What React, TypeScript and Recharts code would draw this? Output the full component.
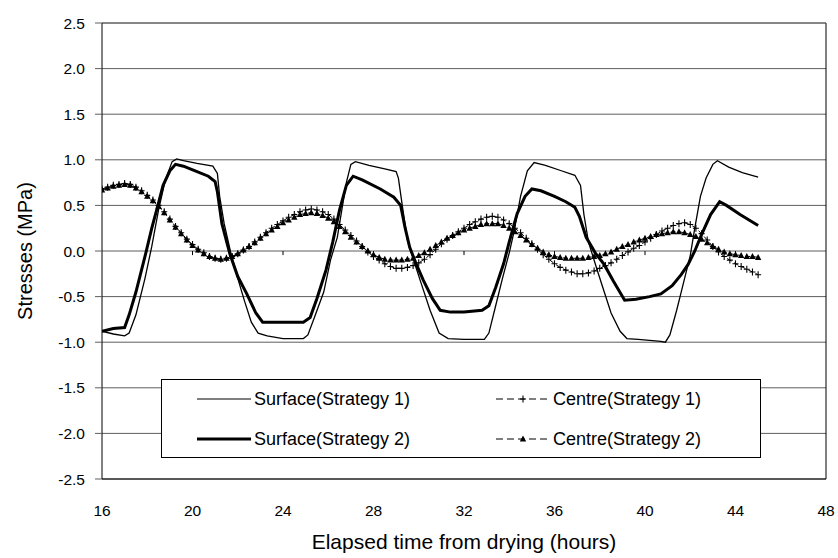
import { LineChart, Line, XAxis, YAxis, CartesianGrid, Legend, ReferenceLine } from 'recharts'

const X_TICKS = [16, 20, 24, 28, 32, 36, 40, 44, 48]
const Y_TICKS = [-2.5, -2, -1.5, -1, -0.5, 0, 0.5, 1, 1.5, 2, 2.5]

const SERIES_NAMES = [
  'Surface(Strategy 1)',
  'Centre(Strategy 1)',
  'Surface(Strategy 2)',
  'Centre(Strategy 2)',
]

// surface, strategy 1 (thin line)
const SURF1_T = [
  16, 16.5, 17, 17.2, 17.5, 17.9, 18.2, 18.5, 18.8, 19.1, 19.3, 19.6, 20.2, 20.9, 21.1, 21.2, 21.4, 21.7,
  22, 22.3, 22.6, 22.9, 23.3, 24, 24.9, 25.1, 25.4, 25.8, 26.1, 26.4, 26.6, 26.8, 27, 27.2, 27.8, 28.5,
  29, 29.1, 29.3, 29.5, 29.8, 30.1, 30.5, 30.9, 31.3, 32, 32.9, 33.1, 33.4, 33.7, 34, 34.2, 34.5, 34.8,
  35.1, 35.6, 36.3, 36.9, 37.15, 37.3, 37.5, 37.9, 38.2, 38.5, 38.9, 39.2, 39.7, 40.2, 40.7, 40.9, 41.1,
  41.4, 41.6, 42, 42.2, 42.45, 42.7, 43, 43.2, 43.7, 44.3, 45,
]
const SURF1_V = [
  -0.88, -0.91, -0.93, -0.9, -0.7, -0.3, 0.05, 0.45, 0.78, 0.98, 1.01, 0.99, 0.96, 0.93, 0.85, 0.6, 0.3, -0.03,
  -0.3, -0.55, -0.78, -0.9, -0.93, -0.96, -0.96, -0.92, -0.72, -0.45, -0.1, 0.15, 0.45, 0.75, 0.95, 0.98, 0.94, 0.9,
  0.87, 0.8, 0.45, 0.12, -0.12, -0.35, -0.65, -0.9, -0.96, -0.97, -0.97, -0.9, -0.6, -0.3, -0.02, 0.2, 0.6, 0.88,
  0.97, 0.94, 0.88, 0.83, 0.72, 0.4, 0.1, -0.22, -0.45, -0.68, -0.88, -0.96, -0.97, -0.98, -0.99, -1.0, -0.92,
  -0.65, -0.45, -0.05, 0.25, 0.6, 0.8, 0.95, 0.99, 0.92, 0.86, 0.81,
]

// surface, strategy 2 (thick line)
const SURF2_T = [
  16, 16.5, 17, 17.2, 17.5, 17.9, 18.2, 18.45, 18.7, 19, 19.25, 19.6, 20.2, 20.7, 21, 21.1, 21.3, 21.65,
  22, 22.4, 22.8, 23.1, 24, 24.9, 25.2, 25.5, 25.9, 26.2, 26.5, 26.8, 27.1, 27.5, 28.3, 28.9, 29.2, 29.4,
  29.6, 29.9, 30.2, 30.6, 30.95, 31.4, 32, 32.8, 33.1, 33.4, 33.75, 34, 34.35, 34.7, 35, 35.4, 36, 36.5,
  36.9, 37.1, 37.4, 37.8, 38.2, 38.6, 39.1, 39.6, 40.2, 40.7, 41.2, 41.6, 41.9, 42.2, 42.5, 42.9, 43.3,
  43.6, 44.2, 45,
]
const SURF2_V = [
  -0.88, -0.85, -0.84, -0.7, -0.45, -0.06, 0.25, 0.48, 0.72, 0.88, 0.95, 0.93, 0.87, 0.82, 0.76, 0.65, 0.3, -0.03,
  -0.28, -0.47, -0.68, -0.78, -0.78, -0.78, -0.73, -0.52, -0.21, 0.1, 0.45, 0.72, 0.82, 0.78, 0.68, 0.59, 0.5, 0.25,
  0.04, -0.15, -0.32, -0.52, -0.65, -0.67, -0.67, -0.65, -0.6, -0.4, -0.14, 0.1, 0.41, 0.6, 0.68, 0.66, 0.6, 0.54,
  0.48, 0.38, 0.15, -0.02, -0.15, -0.33, -0.54, -0.53, -0.5, -0.47, -0.38, -0.26, -0.15, 0.0, 0.18, 0.4, 0.54,
  0.5, 0.4, 0.28,
]

// centre points, sampled every quarter hour
const CENTRE_T = [
  16, 16.25, 16.5, 16.75, 17, 17.25, 17.5, 17.75, 18, 18.25, 18.5, 18.75, 19, 19.25, 19.5, 19.75,
  20, 20.25, 20.5, 20.75, 21, 21.25, 21.5, 21.75, 22, 22.25, 22.5, 22.75, 23, 23.25, 23.5, 23.75,
  24, 24.25, 24.5, 24.75, 25, 25.25, 25.5, 25.75, 26, 26.25, 26.5, 26.75, 27, 27.25, 27.5, 27.75,
  28, 28.25, 28.5, 28.75, 29, 29.25, 29.5, 29.75, 30, 30.25, 30.5, 30.75, 31, 31.25, 31.5, 31.75,
  32, 32.25, 32.5, 32.75, 33, 33.25, 33.5, 33.75, 34, 34.25, 34.5, 34.75, 35, 35.25, 35.5, 35.75,
  36, 36.25, 36.5, 36.75, 37, 37.25, 37.5, 37.75, 38, 38.25, 38.5, 38.75, 39, 39.25, 39.5, 39.75,
  40, 40.25, 40.5, 40.75, 41, 41.25, 41.5, 41.75, 42, 42.25, 42.5, 42.75, 43, 43.25, 43.5, 43.75,
  44, 44.25, 44.5, 44.75, 45,
]
const CENTRE1_V = [
  0.68, 0.7, 0.72, 0.73, 0.74, 0.73, 0.7, 0.66, 0.61, 0.56, 0.5, 0.43, 0.35, 0.27, 0.2, 0.13,
  0.07, 0.02, -0.02, -0.06, -0.08, -0.09, -0.08, -0.06, -0.03, 0.01, 0.05, 0.1, 0.15, 0.2, 0.25, 0.29,
  0.33, 0.37, 0.4, 0.43, 0.45, 0.46, 0.45, 0.43, 0.4, 0.35, 0.29, 0.23, 0.17, 0.11, 0.05, -0.01,
  -0.06, -0.1, -0.14, -0.17, -0.19, -0.19, -0.18, -0.16, -0.13, -0.09, -0.04, 0.02, 0.08, 0.13, 0.17, 0.21,
  0.25, 0.29, 0.32, 0.35, 0.37, 0.38, 0.37, 0.34, 0.3, 0.25, 0.2, 0.14, 0.08, 0.02, -0.04, -0.09,
  -0.14, -0.18, -0.21, -0.23, -0.25, -0.25, -0.24, -0.22, -0.19, -0.16, -0.13, -0.09, -0.05, -0.01, 0.03, 0.06,
  0.1, 0.14, 0.18, 0.22, 0.25, 0.28, 0.3, 0.31, 0.29, 0.25, 0.19, 0.12, 0.05, -0.01, -0.06, -0.1,
  -0.14, -0.17, -0.2, -0.23, -0.26,
]
const CENTRE2_V = [
  0.67, 0.69, 0.71, 0.72, 0.73, 0.72, 0.69, 0.65, 0.6, 0.55, 0.49, 0.42, 0.34, 0.26, 0.19, 0.12,
  0.06, 0.01, -0.03, -0.06, -0.08, -0.09, -0.08, -0.06, -0.03, 0.01, 0.05, 0.09, 0.14, 0.19, 0.23, 0.27,
  0.31, 0.34, 0.37, 0.4, 0.41, 0.42, 0.41, 0.39, 0.36, 0.32, 0.27, 0.21, 0.15, 0.1, 0.05, 0.0,
  -0.04, -0.07, -0.09, -0.1, -0.1, -0.1, -0.09, -0.08, -0.05, -0.02, 0.02, 0.06, 0.1, 0.14, 0.17, 0.2,
  0.23, 0.25, 0.27, 0.29, 0.3, 0.3, 0.3, 0.28, 0.25, 0.21, 0.17, 0.12, 0.07, 0.03, -0.01, -0.04,
  -0.06, -0.07, -0.08, -0.08, -0.08, -0.08, -0.07, -0.06, -0.05, -0.03, -0.01, 0.02, 0.05, 0.07, 0.1, 0.12,
  0.14, 0.16, 0.18, 0.19, 0.2, 0.21, 0.21, 0.2, 0.18, 0.16, 0.13, 0.09, 0.05, 0.02, -0.01, -0.03,
  -0.04, -0.05, -0.06, -0.06, -0.07,
]

const zip = (ts: number[], vs: number[]) => ts.map((t, i) => ({ t, v: vs[i] }))

const surf1 = zip(SURF1_T, SURF1_V)
const surf2 = zip(SURF2_T, SURF2_V)
const centre1 = zip(CENTRE_T, CENTRE1_V)
const centre2 = zip(CENTRE_T, CENTRE2_V)

const INK = '#000'
const GRID = '#5e5e5e'
const FONT = '"Liberation Sans", Arial, Helvetica, sans-serif'

function CrossDot(p: any) {
  const { cx, cy, index } = p
  if (cx == null || cy == null) return <g key={`c${index}`} />
  return (
    <path key={`c${index}`} d={`M${cx - 3},${cy}H${cx + 3}M${cx},${cy - 3.5}V${cy + 3.5}`}
      stroke={INK} strokeWidth={1.1} fill="none" />
  )
}

function TriDot(p: any) {
  const { cx, cy, index } = p
  if (cx == null || cy == null) return <g key={`t${index}`} />
  return (
    <path key={`t${index}`} d={`M${cx},${cy - 3.5}L${cx + 3.2},${cy + 2.5}L${cx - 3.2},${cy + 2.5}Z`}
      fill={INK} stroke="none" />
  )
}

function Sample({ kind }: { kind: number }) {
  // little line pictures for the legend
  if (kind === 0) return <svg width={54} height={12}><line x1={0} x2={54} y1={6} y2={6} stroke={INK} strokeWidth={1.2} /></svg>
  if (kind === 2) return <svg width={54} height={12}><line x1={0} x2={54} y1={6} y2={6} stroke={INK} strokeWidth={3} /></svg>
  return (
    <svg width={54} height={12}>
      <line x1={0} x2={54} y1={6} y2={6} stroke={INK} strokeWidth={1} strokeDasharray="7 4" />
      {kind === 1
        ? <path d="M24,6H30M27,2.5V9.5" stroke={INK} strokeWidth={1.1} />
        : <path d="M27,2.5L30.2,8.5L23.8,8.5Z" fill={INK} />}
    </svg>
  )
}

function LegendBox() {
  const pos = [
    { left: 35, top: 9 },
    { left: 334, top: 9 },
    { left: 35, top: 49 },
    { left: 334, top: 49 },
  ]
  return (
    <div style={{
      width: 600, height: 79, boxSizing: 'border-box', background: '#fff',
      border: `1px solid ${INK}`, position: 'relative', fontFamily: FONT,
    }}>
      {SERIES_NAMES.map((name, i) => (
        <div key={name} style={{
          position: 'absolute', left: pos[i].left, top: pos[i].top,
          display: 'flex', alignItems: 'center', gap: 3, fontSize: 18, color: INK, lineHeight: '20px',
          whiteSpace: 'nowrap',
        }}>
          <Sample kind={i} />
          <span>{name}</span>
        </div>
      ))}
    </div>
  )
}

export default function App() {
  return (
    <div style={{ position: 'absolute', left: 0, top: 0, background: '#fff', fontFamily: FONT }}>
      <LineChart width={838} height={558} margin={{ top: 23, right: 12, bottom: 0, left: 0 }}>
        <CartesianGrid horizontal vertical={false} stroke={GRID} />
        <XAxis
          type="number" dataKey="t" domain={[16, 48]} ticks={X_TICKS} allowDataOverflow
          height={79} axisLine={{ stroke: INK }} tickLine={false} tickMargin={20}
          tick={{ fill: INK, fontSize: 15.5 }}
          label={{ value: 'Elapsed time from drying (hours)', position: 'insideBottom', offset: 9, fill: INK, fontSize: 21 }}
        />
        <YAxis
          type="number" domain={[-2.5, 2.5]} ticks={Y_TICKS} width={102}
          axisLine={{ stroke: INK }} tickLine={{ stroke: GRID }} tickSize={7} tickMargin={10}
          tick={{ fill: INK, fontSize: 15.5 }} tickFormatter={(v: number) => v.toFixed(1)}
          label={{ value: 'Stresses (MPa)', angle: -90, position: 'center', dx: -26, fill: INK, fontSize: 20 }}
        />
        <ReferenceLine x={48} stroke={INK} />
        <ReferenceLine y={2.5} stroke={GRID} />
        {X_TICKS.slice(1, -1).map(x => (
          <ReferenceLine key={x} segment={[{ x, y: 0 }, { x, y: -0.045 }]} stroke={INK} />
        ))}
        <Line data={surf1} dataKey="v" name={SERIES_NAMES[0]} type="linear" stroke={INK} strokeWidth={1.3} dot={false} isAnimationActive={false} />
        <Line data={surf2} dataKey="v" name={SERIES_NAMES[2]} type="linear" stroke={INK} strokeWidth={3} dot={false} isAnimationActive={false} />
        <Line data={centre1} dataKey="v" name={SERIES_NAMES[1]} type="linear" stroke={INK} strokeWidth={1} strokeDasharray="5 3" dot={CrossDot} isAnimationActive={false} />
        <Line data={centre2} dataKey="v" name={SERIES_NAMES[3]} type="linear" stroke={INK} strokeWidth={1} strokeDasharray="5 3" dot={TriDot} isAnimationActive={false} />
        <Legend
          layout="horizontal" verticalAlign="middle" align="center"
          content={() => <LegendBox />}
          wrapperStyle={{ position: 'absolute', left: 161, top: 379, width: 600, height: 79 }}
        />
      </LineChart>
    </div>
  )
}
